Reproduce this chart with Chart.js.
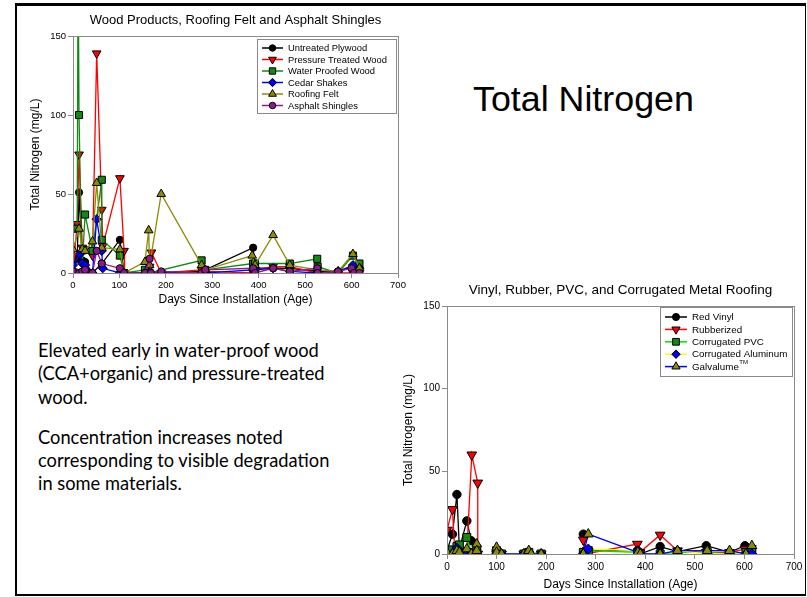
<!DOCTYPE html>
<html><head><meta charset="utf-8">
<script src="https://cdn.jsdelivr.net/npm/chart.js@4.4.1/dist/chart.umd.min.js"></script>
<style>
html,body{margin:0;padding:0;background:#fff;}
body{width:807px;height:597px;position:relative;overflow:hidden;font-family:"Liberation Sans",Arial,sans-serif;}
#frame{position:absolute;left:15px;top:3px;width:791px;height:593px;box-sizing:border-box;border-style:solid;border-color:#000;border-width:3px 1px 2px 2px;}
#c1{position:absolute;left:0;top:0;}
#c2{position:absolute;left:400px;top:275px;}
#bigtitle{position:absolute;left:473px;top:82px;font-size:35.8px;line-height:35px;color:#000;white-space:nowrap;}
#body{position:absolute;left:38px;top:339px;font-family:Lato,"Open Sans",sans-serif;font-size:18.3px;line-height:23.3px;color:#000;}
#body p{margin:0 0 17px 0;white-space:nowrap;}
</style></head>
<body>
<div id="frame"></div>
<div id="bigtitle">Total Nitrogen</div>
<div id="body">
<p>Elevated early in water-proof wood<br>(CCA+organic) and pressure-treated<br>wood.</p>
<p>Concentration increases noted<br>corresponding to visible degradation<br>in some materials.</p>
</div>
<canvas id="c1" width="410" height="312"></canvas>
<canvas id="c2" width="405" height="320"></canvas>
<script>
// ---------- Data: chart 1 (Wood Products, Roofing Felt and Asphalt Shingles) ----------
const plywoodDays = [0, 9, 13, 20, 26, 42, 62, 101, 110, 155, 165, 190, 277, 285, 388, 392, 431, 467, 526, 571, 603, 617];
const plywoodTN   = [1, 9, 51, 8, 7, 0, 6, 21, 0, 0, 1, 0, 1, 2, 16, 3, 3, 3, 1, 1, 4, 3];
const pressureDays = [0, 9, 13, 20, 26, 42, 51, 62, 64, 101, 110, 111, 160, 165, 169, 190, 277, 285, 388, 392, 431, 467, 526, 571, 603, 617];
const pressureTN   = [1, 31, 75, 16, 15, 11, 139, 40, 17, 60, 14, 0, 0, 4, 13, 0, 2, 1, 0, 2, 4, 4, 0, 0, 0, 0];
const waterDays = [9, 11, 13, 19, 26, 42, 62, 62, 101, 110, 155, 165, 277, 285, 388, 392, 467, 526, 527, 571, 603, 617];
const waterTN   = [28, 200, 100, 0, 37, 14, 59, 21, 11, 0, 2, 0, 8, 2, 6, 6, 6, 9, 4, 0, 11, 6];
const cedarDays = [0, 15, 20, 26, 42, 51, 62, 64, 101, 110, 155, 165, 190, 277, 285, 388, 392, 431, 467, 526, 571, 603, 617];
const cedarTN   = [5, 12, 6, 5, 0, 34, 14, 3, 0, 0, 0, 0, 0, 0, 0, 2, 2, 3, 1, 0, 1, 5, 3];
const feltDays = [0, 13, 20, 26, 42, 51, 62, 101, 110, 155, 163, 165, 190, 277, 285, 386, 392, 431, 467, 526, 571, 603, 617];
const feltTN   = [15, 28, 15, 14, 20, 57, 16, 15, 0, 7, 27, 5, 50, 5, 2, 11, 5, 24, 5, 2, 1, 12, 3];
const asphaltDays = [0, 13, 20, 26, 42, 51, 62, 101, 110, 155, 165, 168, 190, 277, 285, 388, 392, 431, 467, 526, 527, 571, 600, 605, 617];
const asphaltTN   = [1, 0, 1, 2, 0, 14, 6, 3, 0, 0, 9, 0, 1, 0, 2, 3, 0, 3, 1, 3, 0, 1, 3, 0, 0];

// ---------- Data: chart 2 (Vinyl, Rubber, PVC, and Corrugated Metal Roofing) ----------
// null = no sample (line break)
const vinylDays = [0, 11, 20, 25, 40, 49, 60, 80, 100, 110, 155, 165, 190, 230, 275, 279, 384, 389, 430, 465, 523, 570, 601, 614];
const vinylTN   = [2, 12, 36, 3, 20, 8, 2, null, 1, 0, 0, 0, 0, null, 12, 2, 2, 0, 4.5, 1.5, 5, 1, 5, 2.5];
const rubberDays = [0, 11, 16, 40, 50, 62, 62, 80, 100, 110, 155, 165, 190, 230, 275, 279, 384, 389, 430, 465, 523, 570, 601, 614];
const rubberTN   = [14.5, 27, 0, 1, 60, 43, 0, null, 0, 0, 0, 0, 0, null, 8.5, 0, 6, 1, 11.5, 2, 1, 1, 3, 3.4];
const pvcDays = [0, 11, 20, 25, 40, 49, 60, 80, 100, 110, 155, 165, 190, 230, 275, 285, 385, 390, 430, 465, 525, 570, 603, 615];
const pvcTN   = [1, 2.5, 4.5, 5.5, 10, 1, 3, null, 2, 0, 0, 1, 0, null, 1, 2, 1, 0, 0, 1, 1, 0, 1, 2];
const aluminumDays = [0, 11, 20, 25, 40, 49, 60, 80, 100, 110, 155, 165, 190, 230, 275, 285, 385, 390, 430, 465, 525, 570, 603, 615];
const aluminumTN   = [0, 0, 3.5, 0, 0, 0, 0, null, 0, 0, 0, 0, 0, null, 0, 3, 2, 0, 0, 2, 0, 0, 0, 0];
const galvDays = [0, 11, 20, 25, 40, 49, 60, 60, 80, 100, 100, 110, 155, 160, 165, 170, 190, 230, 275, 285, 385, 390, 430, 465, 525, 570, 603, 615];
const galvTN   = [1, 0, 2, 1, 3, 0, 6, 2, null, 4, 1, 0, 0, 0, 2, 0, 0, null, 0, 12, 1, 0, 0, 2, 2, 2, 0, 5];

// ---------- Axis ticks / labels ----------
const xTicks = [0, 100, 200, 300, 400, 500, 600, 700];
const yTicks = [0, 50, 100, 150];
const xTitle = 'Days Since Installation (Age)';
const yTitle = 'Total Nitrogen (mg/L)';
const title1 = 'Wood Products, Roofing Felt and Asphalt Shingles';
const title2 = 'Vinyl, Rubber, PVC, and Corrugated Metal Roofing';

const FONT = '"Liberation Sans", Arial, sans-serif';
const GRAY = '#8a8a8a';

function pts(days, vals) { return days.map((d, i) => ({x: d, y: vals[i]})); }

function ds(label, days, vals, line, fill, style, r, rot, extra) {
  return Object.assign({
    label, data: pts(days, vals), borderColor: line, backgroundColor: fill,
    borderWidth: 1.3, pointStyle: style, pointRadius: r, pointHoverRadius: r,
    pointRotation: rot || 0, pointBackgroundColor: fill, pointBorderColor: '#000',
    pointBorderWidth: 1, tension: 0, fill: false, spanGaps: false
  }, extra || {});
}

function drawMarker(ctx, style, rot, x, y, r, fill) {
  ctx.save();
  ctx.fillStyle = fill; ctx.strokeStyle = '#000'; ctx.lineWidth = 1;
  if (Chart.helpers && Chart.helpers.drawPoint) {
    Chart.helpers.drawPoint(ctx, {pointStyle: style, rotation: rot, radius: r, borderWidth: 1}, x, y);
    ctx.restore(); return;
  }
  ctx.beginPath();
  if (style === 'circle') ctx.arc(x, y, r, 0, Math.PI * 2);
  else if (style === 'rect') { const s = r * Math.SQRT1_2; ctx.rect(x - s, y - s, 2 * s, 2 * s); }
  else if (style === 'rectRot') { ctx.moveTo(x, y - r); ctx.lineTo(x + r, y); ctx.lineTo(x, y + r); ctx.lineTo(x - r, y); ctx.closePath(); }
  else if (style === 'triangle') {
    let a = rot * Math.PI / 180;
    for (let k = 0; k < 3; k++) { const px = x + Math.sin(a) * r, py = y - Math.cos(a) * r; k ? ctx.lineTo(px, py) : ctx.moveTo(px, py); a += 2 * Math.PI / 3; }
    ctx.closePath();
  }
  ctx.fill(); ctx.stroke(); ctx.restore();
}

const framePlugin = {
  id: 'plotFrame',
  afterDatasetsDraw(chart) {
    const {ctx, chartArea: a} = chart;
    ctx.save(); ctx.strokeStyle = GRAY; ctx.lineWidth = 1;
    ctx.strokeRect(Math.round(a.left) + 0.5, Math.round(a.top) + 0.5, Math.round(a.right - a.left), Math.round(a.bottom - a.top));
    ctx.restore();
  }
};

const titlePlugin = {
  id: 'plotTitle',
  afterDraw(chart, args, o) {
    const {ctx, chartArea: a} = chart;
    ctx.save(); ctx.fillStyle = '#000'; ctx.font = o.size + 'px ' + FONT;
    ctx.textAlign = 'center'; ctx.textBaseline = 'middle';
    ctx.fillText(o.text, (a.left + a.right) / 2 + (o.dx || 0), o.y);
    ctx.restore();
  }
};

const legendPlugin = {
  id: 'boxLegend',
  afterDatasetsDraw(chart, args, o) {
    const {ctx, chartArea: a} = chart;
    const x0 = Math.round(a.right - o.offRight - o.w), y0 = Math.round(a.top + o.offTop);
    ctx.save();
    ctx.fillStyle = '#fff'; ctx.fillRect(x0, y0, o.w, o.h);
    ctx.strokeStyle = GRAY; ctx.lineWidth = 1; ctx.strokeRect(x0 + 0.5, y0 + 0.5, o.w, o.h);
    chart.data.datasets.forEach((d, i) => {
      const y = y0 + o.firstRow + i * o.rowH;
      ctx.strokeStyle = d.borderColor; ctx.lineWidth = 1.5;
      ctx.beginPath(); ctx.moveTo(x0 + o.lx0, y); ctx.lineTo(x0 + o.lx1, y); ctx.stroke();
      drawMarker(ctx, d.pointStyle, d.pointRotation, x0 + (o.lx0 + o.lx1) / 2, y, d.pointRadius * o.mScale, d.pointBackgroundColor);
      ctx.fillStyle = '#000'; ctx.font = o.size + 'px ' + FONT; ctx.textAlign = 'left'; ctx.textBaseline = 'middle';
      ctx.fillText(d.label, x0 + o.tx, y + 0.5);
      if (d.labelSup) {
        const w = ctx.measureText(d.label).width;
        ctx.font = (o.size * 0.62) + 'px ' + FONT;
        ctx.fillText(d.labelSup, x0 + o.tx + w + 0.5, y - 4);
      }
    });
    ctx.restore();
  }
};

function scales(yW, xH, yTitlePad, xTitlePad, tickSize, titleSize) {
  const common = {
    type: 'linear',
    grid: {display: true, drawOnChartArea: false, drawTicks: true, tickLength: 5, color: GRAY, lineWidth: 1},
    border: {display: true, color: GRAY, width: 1}
  };
  return {
    x: Object.assign({}, common, {
      min: 0, max: 700,
      afterBuildTicks: s => { s.ticks = xTicks.map(v => ({value: v})); },
      ticks: {color: '#000', font: {size: tickSize, family: FONT}, padding: 2, maxRotation: 0, autoSkip: false},
      title: {display: true, text: xTitle, color: '#000', font: {size: titleSize, family: FONT}, padding: xTitlePad},
      afterFit: s => { s.height = xH; }
    }),
    y: Object.assign({}, common, {
      min: 0, max: 150,
      afterBuildTicks: s => { s.ticks = yTicks.map(v => ({value: v})); },
      ticks: {color: '#000', font: {size: tickSize, family: FONT}, padding: 2},
      title: {display: true, text: yTitle, color: '#000', font: {size: titleSize, family: FONT}, padding: yTitlePad},
      afterFit: s => { s.width = yW; }
    })
  };
}

Chart.defaults.font.family = FONT;
Chart.defaults.animation = false;

// ---------- Chart 1 ----------
const r1 = {c: 3.6, s: 5, d: 4.6, t: 5};
new Chart(document.getElementById('c1'), {
  type: 'line',
  data: {datasets: [
    ds('Untreated Plywood', plywoodDays, plywoodTN, '#000000', '#000000', 'circle', r1.c),
    ds('Pressure Treated Wood', pressureDays, pressureTN, '#ff0000', '#ff0000', 'triangle', r1.t, 180),
    ds('Water Proofed Wood', waterDays, waterTN, '#118a11', '#118a11', 'rect', r1.s),
    ds('Cedar Shakes', cedarDays, cedarTN, '#0000ff', '#0000ff', 'rectRot', r1.d),
    ds('Roofing Felt', feltDays, feltTN, '#8c8c00', '#8c8c00', 'triangle', r1.t),
    ds('Asphalt Shingles', asphaltDays, asphaltTN, '#8b1a8b', '#8b1a8b', 'circle', r1.c)
  ].map((d, i, arr) => Object.assign(d, {order: arr.length - i}))},
  options: {
    responsive: false, animation: false, devicePixelRatio: 1,
    layout: {padding: {top: 36, right: 12, left: 0, bottom: 0}},
    scales: scales(73, 39, {top: 28, bottom: 0}, {top: 0, bottom: 5}, 9.5, 12),
    plugins: {
      legend: {display: false}, tooltip: {enabled: false},
      plotTitle: {text: title1, y: 20, size: 13},
      boxLegend: {offRight: 2, offTop: 3, w: 139, h: 74, firstRow: 9, rowH: 11.5, lx0: 5, lx1: 26, tx: 31, size: 9.4, mScale: 0.9}
    }
  },
  plugins: [framePlugin, legendPlugin, titlePlugin]
});

// ---------- Chart 2 ----------
const r2 = {c: 4.2, s: 5.6, d: 5, t: 5.6};
new Chart(document.getElementById('c2'), {
  type: 'line',
  data: {datasets: [
    ds('Red Vinyl', vinylDays, vinylTN, '#000000', '#000000', 'circle', r2.c),
    ds('Rubberized', rubberDays, rubberTN, '#ff0000', '#ff0000', 'triangle', r2.t, 180),
    ds('Corrugated PVC', pvcDays, pvcTN, '#00e000', '#118a11', 'rect', r2.s),
    ds('Corrugated Aluminum', aluminumDays, aluminumTN, '#ffff00', '#0000ff', 'rectRot', r2.d),
    Object.assign(ds('Galvalume', galvDays, galvTN, '#0000ff', '#8c8c00', 'triangle', r2.t), {labelSup: 'TM'})
  ].map((d, i, arr) => Object.assign(d, {order: arr.length - i}))},
  options: {
    responsive: false, animation: false, devicePixelRatio: 1,
    layout: {padding: {top: 31, right: 11, left: 0, bottom: 0}},
    scales: scales(47, 41, {top: 1, bottom: 0}, {top: 0, bottom: 3}, 10, 12),
    plugins: {
      legend: {display: false}, tooltip: {enabled: false},
      plotTitle: {text: title2, y: 15, size: 13.5},
      boxLegend: {offRight: 2, offTop: 1, w: 132, h: 69, firstRow: 10, rowH: 12.4, lx0: 5, lx1: 27, tx: 32, size: 9.8, mScale: 0.85}
    }
  },
  plugins: [framePlugin, legendPlugin, titlePlugin]
});
</script>
</body></html>
